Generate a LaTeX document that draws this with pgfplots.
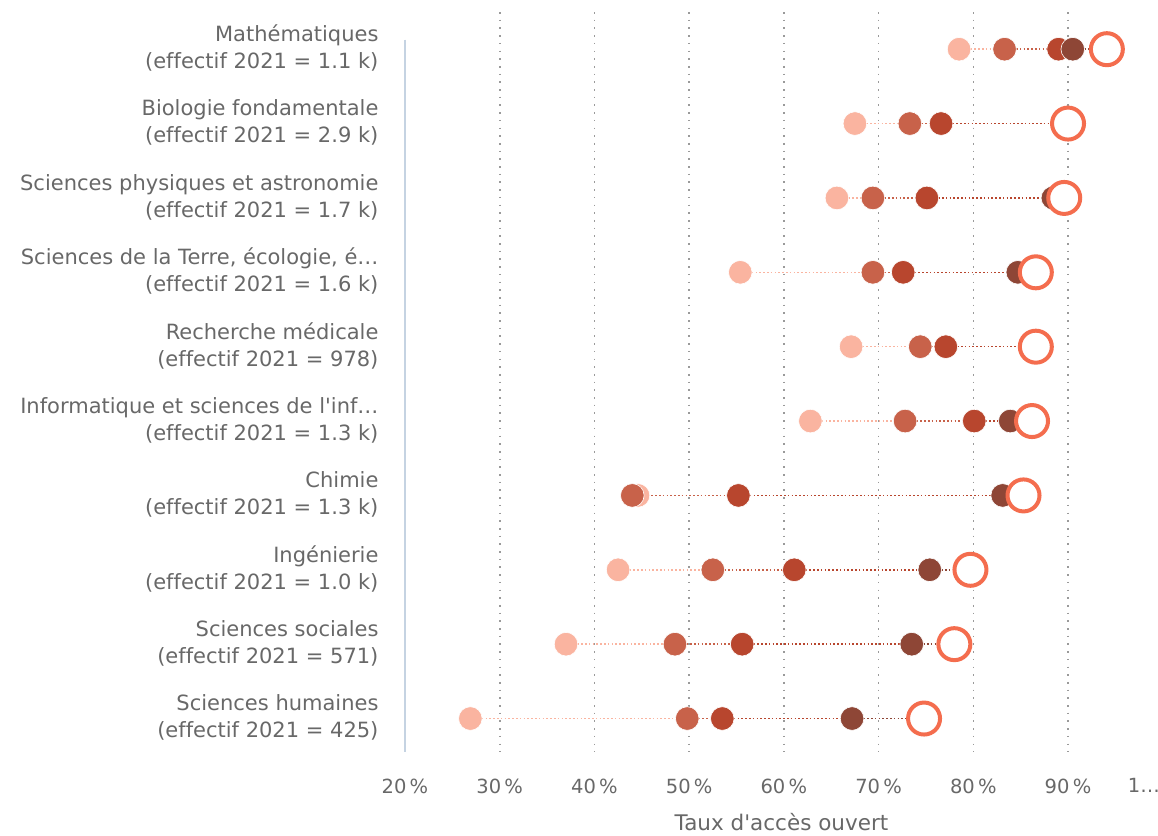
\documentclass[border=0pt]{standalone}
\usepackage{pgfplots}
\pgfplotsset{compat=1.18}
\usepackage{pgfplotstable}
\usepackage{fontspec}
\setmainfont[Ligatures={NoCommon}]{DejaVu Sans}
\definecolor{c1}{HTML}{FAB4A0}
\definecolor{c2}{HTML}{C8624A}
\definecolor{c3}{HTML}{B8462E}
\definecolor{c4}{HTML}{8E4636}
\definecolor{c5}{HTML}{F46D4E}
\definecolor{tgray}{HTML}{686868}
\definecolor{axblue}{HTML}{C5D3E2}
\definecolor{ggray}{HTML}{9A9A9A}
\pgfplotstableread{
y a b c d e
0 78.5 83.3 89.0 90.5 94.1
1 67.5 73.3 76.6 89.8 90.0
2 65.6 69.4 75.1 88.4 89.6
3 55.4 69.4 72.6 84.7 86.6
4 67.1 74.4 77.1 86.3 86.6
5 62.8 72.8 80.1 83.9 86.2
6 44.6 44.0 55.2 83.1 85.3
7 42.5 52.5 61.1 75.4 79.7
8 37.0 48.5 55.6 73.5 78.0
9 26.9 49.8 53.5 67.2 74.8
}\data
\begin{document}
\begin{tikzpicture}[x=1pt,y=1pt]
\begin{axis}[
  scale only axis, width=753pt, height=740pt,
  xmin=20, xmax=99.5, ymin=-0.5, ymax=9.45, y dir=reverse,
  clip=false,
  axis line style={draw=none}, major tick length=0,
  xtick={30,40,50,60,70,80,90},
  xticklabels={30\,\%,40\,\%,50\,\%,60\,\%,70\,\%,80\,\%,90\,\%},
  extra x ticks={20,98.0}, extra x tick labels={20\,\%,1…},
  extra x tick style={grid=none},
  xmajorgrids, grid style={draw=ggray, line width=1.6pt, dash pattern=on 1.6pt off 6.1pt},
  ytick={0,...,9},
  yticklabels={{Mathématiques\\(effectif 2021 = 1.1 k)},
    {Biologie fondamentale\\(effectif 2021 = 2.9 k)},
    {Sciences physiques et astronomie\\(effectif 2021 = 1.7 k)},
    {Sciences de la Terre, écologie, é…\\(effectif 2021 = 1.6 k)},
    {Recherche médicale\\(effectif 2021 = 978)},
    {Informatique et sciences de l\textquotesingle inf…\\(effectif 2021 = 1.3 k)},
    {Chimie\\(effectif 2021 = 1.3 k)},
    {Ingénierie\\(effectif 2021 = 1.0 k)},
    {Sciences sociales\\(effectif 2021 = 571)},
    {Sciences humaines\\(effectif 2021 = 425)}},
  yticklabel style={align=right, anchor=east, xshift=-23pt, yshift=1pt, text=tgray, font=\fontsize{21}{27}\selectfont},
  xticklabel style={text=tgray, font=\fontsize{19.5}{22}\selectfont, yshift=-23pt},
  xlabel={Taux d\textquotesingle accès ouvert},
  xlabel style={at={(axis description cs:0.5,0)}, anchor=center, yshift=-70pt, text=tgray, font=\fontsize{21.5}{24}\selectfont},
]
\draw[axblue, line width=1.5pt] (axis cs:20,-0.13) -- (axis cs:20,9.45);
\pgfplotsset{seg/.style={line width=1.6pt, dash pattern=on 1.6pt off 2.2pt, -}}
\addplot[c1, seg, quiver={u=\thisrow{b}-\thisrow{a}, v=0}] table[x=a,y=y]{\data};
\addplot[c2, seg, quiver={u=\thisrow{c}-\thisrow{b}, v=0}] table[x=b,y=y]{\data};
\addplot[c3, seg, quiver={u=\thisrow{d}-\thisrow{c}, v=0}] table[x=c,y=y]{\data};
\addplot[c4, seg, quiver={u=\thisrow{e}-\thisrow{d}, v=0}] table[x=d,y=y]{\data};
\addplot[only marks, mark=*, mark size=11.8pt, mark options={fill=c1, draw=white, line width=0.6pt}] table[x=a,y=y]{\data};
\addplot[only marks, mark=*, mark size=11.8pt, mark options={fill=c2, draw=white, line width=0.6pt}] table[x=b,y=y]{\data};
\addplot[only marks, mark=*, mark size=11.8pt, mark options={fill=c3, draw=white, line width=0.6pt}] table[x=c,y=y]{\data};
\addplot[only marks, mark=*, mark size=11.8pt, mark options={fill=c4, draw=white, line width=0.6pt}] table[x=d,y=y]{\data};
\addplot[only marks, mark=*, mark size=16pt, mark options={fill=white, draw=c5, line width=4pt}] table[x=e,y=y]{\data};
\end{axis}
\pgfresetboundingbox
\path (current axis.south west) ++(-405pt,-83pt) rectangle ++(1158pt,835pt);
\end{tikzpicture}
\end{document}
